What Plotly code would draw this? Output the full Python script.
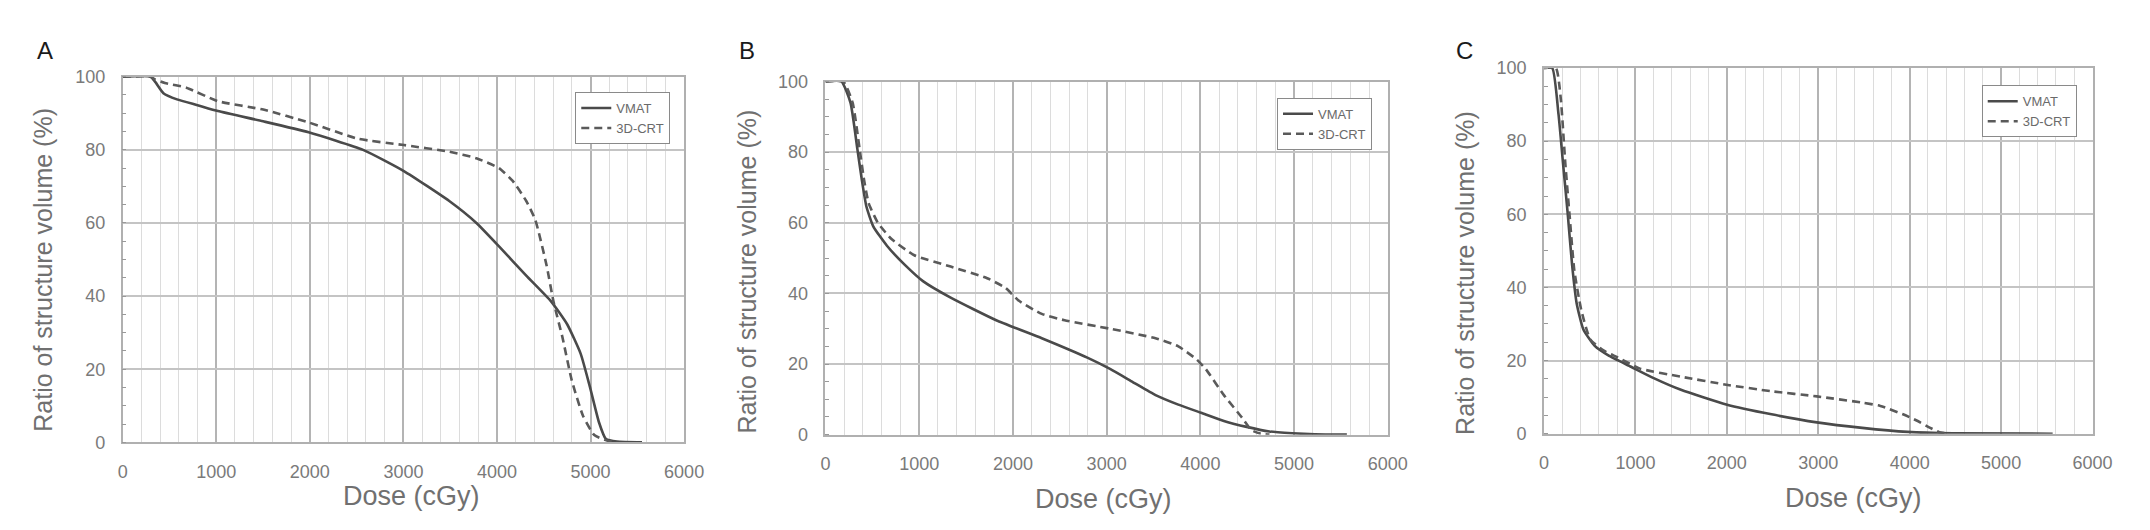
import plotly.graph_objects as go

W, H = 2150, 530

# ---------------- data ----------------
a_dose_vmat = [0, 300, 350, 435, 580, 800, 1018, 1500, 1987, 2569, 3005, 3490, 3780, 4022, 4313, 4580, 4750, 4895, 4992, 5090, 5162, 5283, 5550]
a_vol_vmat = [100, 100, 98.5, 95.5, 93.8, 92.2, 90.6, 87.8, 84.8, 80, 74.2, 66, 60, 53.6, 45.6, 38.5, 32.3, 24.2, 15.3, 5.5, 1, 0.2, 0]
a_dose_3d = [0, 300, 340, 450, 680, 1018, 1502, 1987, 2520, 3005, 3490, 3780, 4022, 4168, 4313, 4410, 4531, 4604, 4700, 4798, 4919, 5040, 5186, 5283]
a_vol_3d = [100, 100, 99.3, 98.3, 97, 93.3, 91, 87.5, 83, 81.3, 79.5, 77.7, 75, 71.5, 66, 60.8, 48.3, 38.5, 28.7, 17.1, 7.3, 2, 0.4, 0]

b_dose_vmat = [0, 170, 267, 340, 389, 437, 510, 656, 850, 1044, 1336, 1822, 2308, 2794, 3036, 3279, 3522, 3765, 4008, 4251, 4494, 4737, 4980, 5223, 5563]
b_vol_vmat = [100, 100, 94, 81, 72, 64.6, 59, 53.5, 48, 43.4, 38.8, 32.4, 27.3, 21.8, 18.6, 14.9, 11.2, 8.5, 6.2, 3.9, 2.2, 0.9, 0.4, 0.1, 0]
b_dose_3d = [0, 190, 290, 364, 413, 462, 559, 705, 948, 1336, 1725, 1919, 2065, 2308, 2551, 3036, 3522, 3765, 3960, 4057, 4251, 4445, 4543, 4640, 4737]
b_vol_3d = [100, 100, 94, 81, 72, 65.5, 60, 55.4, 50.8, 47.6, 44.3, 41.6, 37.9, 34.2, 32.4, 30, 27.3, 25, 21.3, 18.6, 11.2, 4.8, 1.3, 0.3, 0]

c_dose_vmat = [0, 90, 159, 208, 258, 307, 357, 431, 555, 704, 952, 1200, 1498, 1993, 2489, 2985, 3481, 3977, 4473, 5564]
c_vol_vmat = [100, 100, 87.3, 74, 60.6, 46.3, 35.7, 28.5, 24, 21.4, 18.3, 15.2, 12, 8, 5.3, 3.1, 1.6, 0.5, 0.1, 0]
c_dose_3d = [0, 130, 183, 233, 283, 332, 407, 506, 655, 803, 1051, 1498, 1993, 2489, 2985, 3481, 3679, 3927, 4076, 4225, 4324, 4423]
c_vol_3d = [100, 100, 91.8, 74, 58.8, 44.6, 33.9, 25.8, 22.7, 20.9, 17.8, 15.6, 13.4, 11.6, 10.2, 8.5, 7.6, 5.3, 3.6, 1.6, 0.4, 0]

panel_labels = ["A", "B", "C"]
series_names = ["VMAT", "3D-CRT"]
x_ticks = [0, 1000, 2000, 3000, 4000, 5000, 6000]
y_ticks = [0, 20, 40, 60, 80, 100]
x_title = "Dose (cGy)"
y_title = "Ratio of structure volume (%)"

# ---------------- layout geometry (pixels) ----------------
plots = [  # left, right, top, bottom
    (111, 679, 61, 441),
    (822, 1391, 66, 433),
    (1549, 2104, 52, 432),
]
legend_pos = [(665, 77), (1375, 83), (2088, 70)]
label_pos = [(32, 34), (743, 34), (1469, 34)]
ytitle_pos = [(30, 262), (743, 263), (1469, 265)]
xtitle_pos = [(403, 497), (1103, 500), (1862, 499)]

panels = [
    (a_dose_vmat, a_vol_vmat, a_dose_3d, a_vol_3d),
    (b_dose_vmat, b_vol_vmat, b_dose_3d, b_vol_3d),
    (c_dose_vmat, c_vol_vmat, c_dose_3d, c_vol_3d),
]

TICK_FONT = dict(family="Liberation Sans, Arial", size=18, color="#7a7a7a")
YTITLE_FONT = dict(family="Liberation Sans, Arial", size=25, color="#707070")
XTITLE_FONT = dict(family="Liberation Sans, Arial", size=27, color="#707070")

fig = go.Figure()
layout = dict(
    width=W, height=H, margin=dict(l=0, r=0, t=0, b=0),
    paper_bgcolor="white", plot_bgcolor="white",
    annotations=[], showlegend=True,
)

for i, (dv, vv, d3, v3) in enumerate(panels):
    suf = "" if i == 0 else str(i + 1)
    xa, ya = "x" + suf, "y" + suf
    leg = "legend" + suf
    fig.add_trace(go.Scatter(x=dv, y=vv, mode="lines", name=series_names[0],
                             line=dict(color="#4a4a4a", width=2.6, shape="spline", smoothing=0.5),
                             xaxis=xa, yaxis=ya, legend=leg))
    fig.add_trace(go.Scatter(x=d3, y=v3, mode="lines", name=series_names[1],
                             line=dict(color="#5a5a5a", width=2.6, dash="8px,5px", shape="spline", smoothing=0.5),
                             xaxis=xa, yaxis=ya, legend=leg))
    l, r, t, b = plots[i]
    layout["xaxis" + suf] = dict(
        domain=[l / W, r / W], anchor=ya, range=[0, 6000],
        tickvals=x_ticks, ticktext=[str(v) for v in x_ticks],
        showgrid=True, gridcolor="#b4b4b4", gridwidth=1.6,
        minor=dict(dtick=200, showgrid=True, gridcolor="#dcdcdc", gridwidth=1),
        showline=True, linecolor="#b0b0b0", linewidth=1.5, mirror=True,
        ticks="", tickfont=TICK_FONT, ticklabelstandoff=12, zeroline=False,
    )
    layout["yaxis" + suf] = dict(
        domain=[1 - b / H, 1 - t / H], anchor=xa, range=[0, 100],
        tickvals=y_ticks, ticktext=[str(v) for v in y_ticks],
        showgrid=True, gridcolor="#c4c4c4", gridwidth=2,
        minor=dict(dtick=5, ticks="inside", ticklen=4, tickcolor="#999999", tickwidth=1, showgrid=False),
        showline=True, linecolor="#b0b0b0", linewidth=1.5, mirror=True,
        ticks="", tickfont=TICK_FONT, ticklabelstandoff=12, zeroline=False,
    )
    lx, ly = legend_pos[i]
    layout[leg] = dict(
        x=lx / W, y=1 - ly / H, xanchor="right", yanchor="top", xref="paper", yref="paper",
        bgcolor="white", bordercolor="#8a8a8a", borderwidth=1,
        font=dict(family="Liberation Sans Narrow, Liberation Sans, Arial", size=13, color="#6a6a6a"),
        tracegroupgap=0, itemwidth=30,
    )
    px_, py_ = label_pos[i]
    layout["annotations"].append(dict(
        text=panel_labels[i], x=px_ / W, y=1 - py_ / H, xref="paper", yref="paper",
        xanchor="center", yanchor="middle", showarrow=False,
        font=dict(family="Liberation Sans, Arial", size=24, color="#1a1a1a")))
    yx, yy = ytitle_pos[i]
    layout["annotations"].append(dict(
        text=y_title, x=yx / W, y=1 - yy / H, xref="paper", yref="paper", textangle=-90,
        xanchor="center", yanchor="middle", showarrow=False, font=YTITLE_FONT))
    xx, xy = xtitle_pos[i]
    layout["annotations"].append(dict(
        text=x_title, x=xx / W, y=1 - xy / H, xref="paper", yref="paper",
        xanchor="center", yanchor="middle", showarrow=False, font=XTITLE_FONT))

fig.update_layout(**layout)
fig.write_html("out.html")
